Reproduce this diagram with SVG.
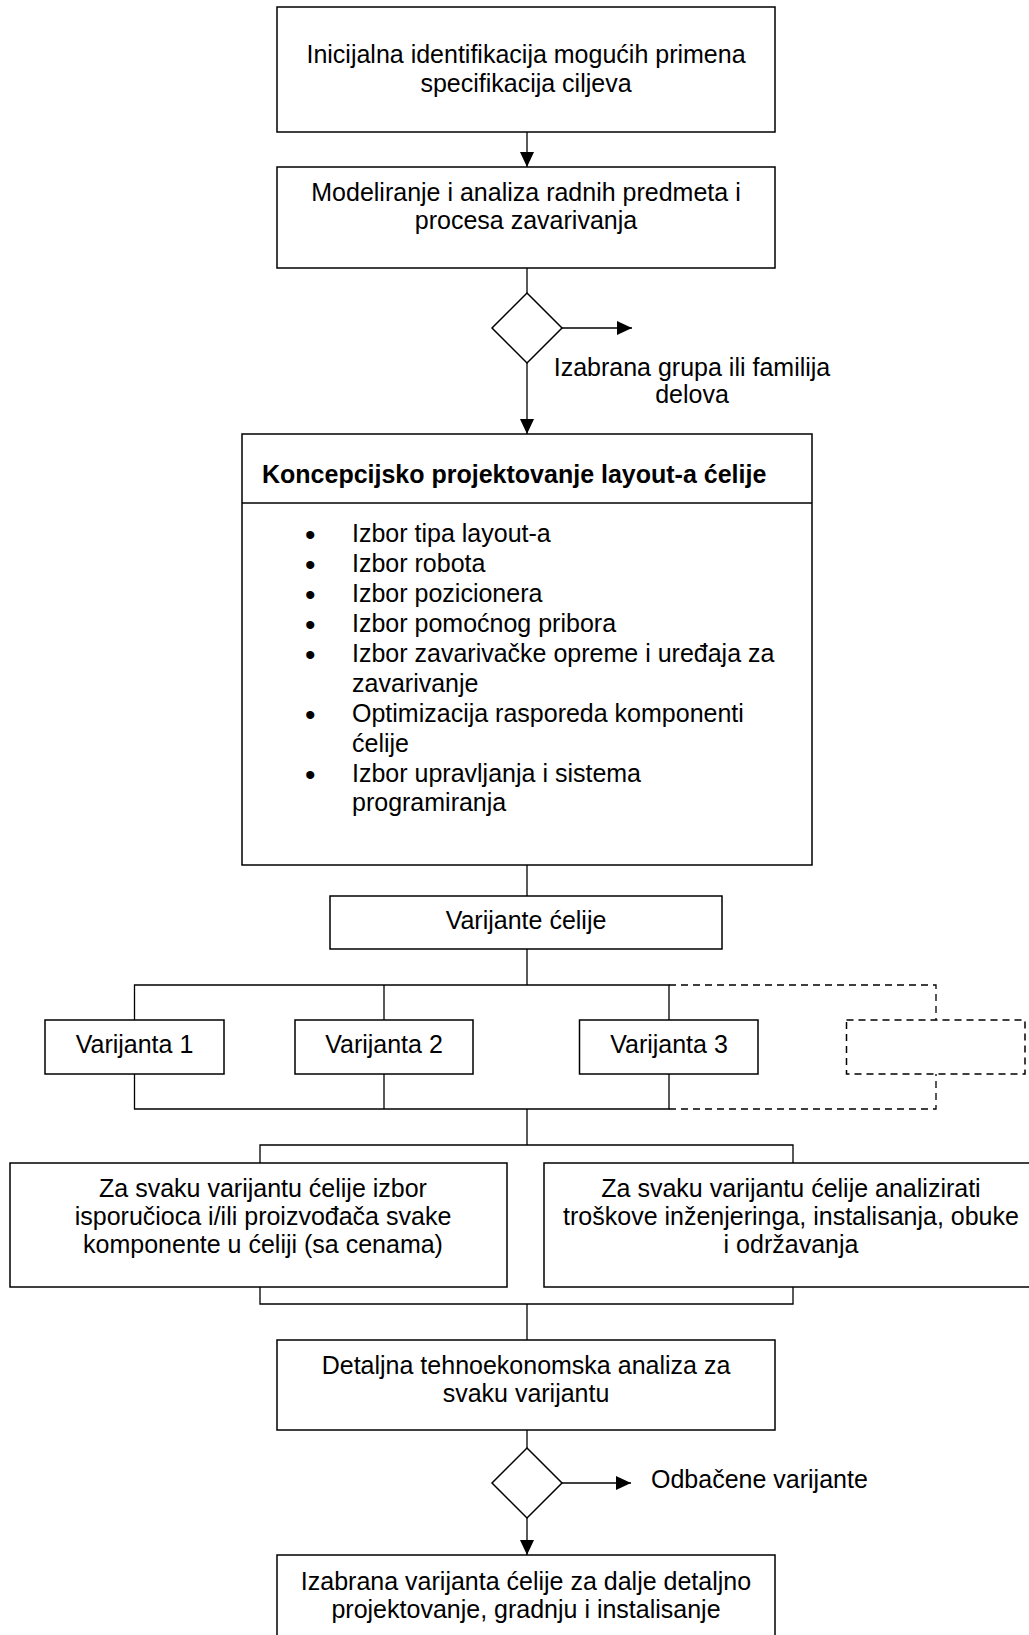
<svg xmlns="http://www.w3.org/2000/svg" width="1029" height="1635" viewBox="0 0 1029 1635">
<defs>
<style>
.box{fill:#fff;stroke:#000;stroke-width:1.5}
.dbox{fill:none;stroke:#000;stroke-width:1.5;stroke-dasharray:7 5}
.ln{fill:none;stroke:#000;stroke-width:1.3}
.dl{fill:none;stroke:#000;stroke-width:1.3;stroke-dasharray:7 5}
text{font-family:"Liberation Sans",Arial,sans-serif;font-size:25px;fill:#000}
.c{text-anchor:middle}
.b{font-weight:bold}
.bu{font-size:30px}
</style>
<marker id="ah" markerWidth="15" markerHeight="14" refX="15" refY="7" orient="auto" markerUnits="userSpaceOnUse">
<path d="M0,0 L15,7 L0,14 Z" fill="#000"/>
</marker>
</defs>
<rect width="1029" height="1635" fill="#fff"/>
<g id="connectors">
<line class="ln" x1="527" y1="132" x2="527" y2="167" marker-end="url(#ah)"/>
<line class="ln" x1="527" y1="268" x2="527" y2="293"/>
<line class="ln" x1="562" y1="328" x2="632" y2="328" marker-end="url(#ah)"/>
<line class="ln" x1="527" y1="363" x2="527" y2="434" marker-end="url(#ah)"/>
<line class="ln" x1="527" y1="865" x2="527" y2="896"/>
<line class="ln" x1="527" y1="949" x2="527" y2="985"/>
<polyline class="ln" points="134.5,1020 134.5,985 669,985 669,1020"/>
<line class="ln" x1="384" y1="985" x2="384" y2="1020"/>
<polyline class="dl" points="669,985 936,985 936,1020"/>
<polyline class="ln" points="134.5,1074 134.5,1109 669,1109 669,1074"/>
<line class="ln" x1="384" y1="1074" x2="384" y2="1109"/>
<polyline class="dl" points="669,1109 936,1109 936,1074"/>
<line class="ln" x1="527" y1="1109" x2="527" y2="1145"/>
<polyline class="ln" points="260,1163 260,1145 793,1145 793,1163"/>
<polyline class="ln" points="260,1287 260,1304 793,1304 793,1287"/>
<line class="ln" x1="527" y1="1304" x2="527" y2="1340"/>
<line class="ln" x1="527" y1="1430" x2="527" y2="1448"/>
<line class="ln" x1="562" y1="1483" x2="631" y2="1483" marker-end="url(#ah)"/>
<line class="ln" x1="527" y1="1518" x2="527" y2="1555" marker-end="url(#ah)"/>
</g>
<g id="n1">
<rect class="box" x="277" y="7" width="498" height="125"/>
<text class="c" x="526" y="63">Inicijalna identifikacija mogućih primena</text>
<text class="c" x="526" y="92">specifikacija ciljeva</text>
</g>
<g id="n2">
<rect class="box" x="277" y="167" width="498" height="101"/>
<text class="c" x="526" y="201">Modeliranje i analiza radnih predmeta i</text>
<text class="c" x="526" y="229">procesa zavarivanja</text>
</g>
<g id="d1">
<polygon class="box" points="527,293 562,328 527,363 492,328"/>
</g>
<g id="label1">
<text class="c" x="692" y="376">Izabrana grupa ili familija</text>
<text class="c" x="692" y="403">delova</text>
</g>
<g id="n3">
<rect class="box" x="242" y="434" width="570" height="431"/>
<line class="ln" x1="242" y1="503" x2="812" y2="503"/>
<text class="b" x="262" y="483">Koncepcijsko projektovanje layout-a ćelije</text>
<text class="bu" x="305" y="545">•</text><text x="352" y="542">Izbor tipa layout-a</text>
<text class="bu" x="305" y="575">•</text><text x="352" y="572">Izbor robota</text>
<text class="bu" x="305" y="605">•</text><text x="352" y="602">Izbor pozicionera</text>
<text class="bu" x="305" y="635">•</text><text x="352" y="632">Izbor pomoćnog pribora</text>
<text class="bu" x="305" y="665">•</text><text x="352" y="662">Izbor zavarivačke opreme i uređaja za</text>
<text x="352" y="692">zavarivanje</text>
<text class="bu" x="305" y="725">•</text><text x="352" y="722">Optimizacija rasporeda komponenti</text>
<text x="352" y="752">ćelije</text>
<text class="bu" x="305" y="785">•</text><text x="352" y="782">Izbor upravljanja i sistema</text>
<text x="352" y="811">programiranja</text>
</g>
<g id="n4">
<rect class="box" x="330" y="896" width="392" height="53"/>
<text class="c" x="526" y="929">Varijante ćelije</text>
</g>
<g id="v1">
<rect class="box" x="45" y="1020" width="179" height="54"/>
<text class="c" x="134.5" y="1053">Varijanta 1</text>
</g>
<g id="v2">
<rect class="box" x="295" y="1020" width="178" height="54"/>
<text class="c" x="384" y="1053">Varijanta 2</text>
</g>
<g id="v3">
<rect class="box" x="579.5" y="1020" width="178.5" height="54"/>
<text class="c" x="669" y="1053">Varijanta 3</text>
</g>
<g id="v4">
<rect class="dbox" x="846.5" y="1020" width="178.5" height="54"/>
</g>
<g id="n5">
<rect class="box" x="10" y="1163" width="497" height="124"/>
<text class="c" x="263" y="1197">Za svaku varijantu ćelije izbor</text>
<text class="c" x="263" y="1225">isporučioca i/ili proizvođača svake</text>
<text class="c" x="263" y="1253">komponente u ćeliji (sa cenama)</text>
</g>
<g id="n6">
<rect class="box" x="544" y="1163" width="500" height="124"/>
<text class="c" x="791" y="1197">Za svaku varijantu ćelije analizirati</text>
<text class="c" x="791" y="1225">troškove inženjeringa, instalisanja, obuke</text>
<text class="c" x="791" y="1253">i održavanja</text>
</g>
<g id="n7">
<rect class="box" x="277" y="1340" width="498" height="90"/>
<text class="c" x="526" y="1374">Detaljna tehnoekonomska analiza za</text>
<text class="c" x="526" y="1402">svaku varijantu</text>
</g>
<g id="d2">
<polygon class="box" points="527,1448 562,1483 527,1518 492,1483"/>
</g>
<g id="label2">
<text x="651" y="1488">Odbačene varijante</text>
</g>
<g id="n8">
<rect class="box" x="277" y="1555" width="498" height="100"/>
<text class="c" x="526" y="1590">Izabrana varijanta ćelije za dalje detaljno</text>
<text class="c" x="526" y="1618">projektovanje, gradnju i instalisanje</text>
</g>
</svg>
